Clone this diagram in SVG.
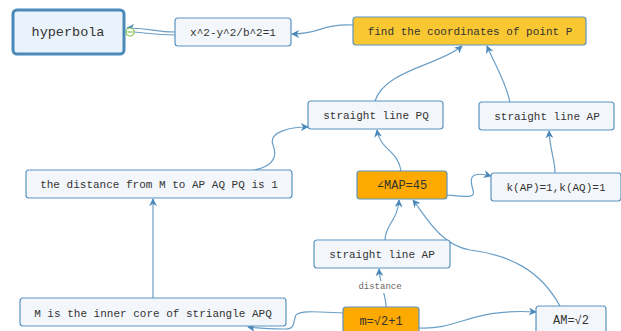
<svg xmlns="http://www.w3.org/2000/svg" width="621" height="331" viewBox="0 0 621 331">
<defs>
<style>
.n{fill:#f3f7fc;stroke:#5b93bf;stroke-width:1.2}
.y{fill:#f8c731;stroke:#5b93bf;stroke-width:1.2}
.o{fill:#ffaa00;stroke:#5b93bf;stroke-width:1.2}
.t{font-family:"Liberation Mono",monospace;font-size:11px;fill:#333;text-anchor:middle;dominant-baseline:central}
.c{fill:none;stroke:#6a9ec6;stroke-width:1.2}
</style>
<marker id="a" viewBox="0 0 10 10" refX="9" refY="5" markerWidth="8" markerHeight="8" markerUnits="userSpaceOnUse" orient="auto">
<path d="M0,0 L10,5 L0,10 L3,5 Z" fill="#4a88ba"/>
</marker>
</defs>
<rect width="621" height="331" fill="#fff"/>
<g id="connectors">
<path class="c" d="M175,32 C155,32 150,28 127,28" marker-end="url(#a)"/>
<path class="c" d="M175,35 C155,35 148,33 134,32"/>
<path class="c" d="M353,25 C320,24 320,34 292,34" marker-end="url(#a)"/>
<path class="c" d="M375,101 C385,70 440,65 462,46" marker-end="url(#a)"/>
<path class="c" d="M510,102 C505,80 495,65 487,46" marker-end="url(#a)"/>
<path class="c" d="M254,170 C280,165 275,150 273,145 C268,132 290,127 308,127" marker-end="url(#a)"/>
<path class="c" d="M401,171 C398,150 380,150 377,130" marker-end="url(#a)"/>
<path class="c" d="M447,195 C470,197 475,198 473,190 C470,180 468,170 491,176" marker-end="url(#a)"/>
<path class="c" d="M555,173 C555,160 550,150 549,131" marker-end="url(#a)"/>
<path class="c" d="M385,240 C385,225 398,220 399,200" marker-end="url(#a)"/>
<path class="c" d="M560,306 C540,270 510,255 470,250 C440,245 425,215 413,200" marker-end="url(#a)"/>
<path class="c" d="M153,298 L153,199" marker-end="url(#a)"/>
<path class="c" d="M386,307 C386,295 380,285 379,269" marker-end="url(#a)"/>
<path class="c" d="M419,328 C460,330 470,308 536,312" marker-end="url(#a)"/>
<path class="c" d="M343,313 C320,312 300,310 296,315 C293,320 296,330 285,329 C270,329 255,328 248,327" marker-end="url(#a)"/>
<rect x="355" y="281" width="50" height="12" fill="#fff"/>
<text x="380" y="287" style="font-family:'Liberation Mono',monospace;font-size:9px;fill:#666;text-anchor:middle;dominant-baseline:central">distance</text>
<circle cx="130" cy="32" r="4" fill="#fff" stroke="#7cc24a" stroke-width="1.2"/>
<path d="M127.5,32 L132.5,32" stroke="#7cc24a" stroke-width="1.2"/>
</g>
<g id="hyperbola">
<rect x="13" y="10" width="111" height="44" rx="4" fill="#eaf2fb" stroke="#4a8ab8" stroke-width="3"/>
<text class="t" x="68" y="32" style="font-size:13.5px">hyperbola</text>
</g>
<g id="eq">
<rect class="n" x="175" y="18" width="116" height="28" rx="3"/>
<text class="t" x="233" y="33">x^2-y^2/b^2=1</text>
</g>
<g id="find">
<rect class="y" x="353" y="17" width="233" height="28" rx="3"/>
<text class="t" x="470" y="32">find the coordinates of point P</text>
</g>
<g id="linePQ">
<rect class="n" x="308" y="101" width="135" height="28" rx="3"/>
<text class="t" x="376" y="116">straight line PQ</text>
</g>
<g id="lineAP1">
<rect class="n" x="479" y="102" width="135" height="28" rx="3"/>
<text class="t" x="547" y="117">straight line AP</text>
</g>
<g id="distanceM">
<rect class="n" x="26" y="170" width="266" height="28" rx="3"/>
<text class="t" x="159" y="185">the distance from M to AP AQ PQ is 1</text>
</g>
<g id="angle">
<rect class="o" x="357" y="171" width="90" height="28" rx="3"/>
<text class="t" x="402" y="186" style="font-size:12px">∠MAP=45</text>
</g>
<g id="slopes">
<rect class="n" x="491" y="173" width="130" height="28" rx="3"/>
<text class="t" x="556" y="188">k(AP)=1,k(AQ)=1</text>
</g>
<g id="lineAP2">
<rect class="n" x="314" y="240" width="136" height="28" rx="3"/>
<text class="t" x="382" y="255">straight line AP</text>
</g>
<g id="inner">
<rect class="n" x="20" y="298" width="266" height="28" rx="3"/>
<text class="t" x="153" y="314">M is the inner core of striangle APQ</text>
</g>
<g id="m">
<rect class="o" x="343" y="307" width="76" height="30" rx="3"/>
<text class="t" x="381" y="322" style="font-size:12px">m=√2+1</text>
</g>
<g id="AM">
<rect class="n" x="536" y="306" width="70" height="30" rx="3"/>
<text class="t" x="571" y="321" style="font-size:12px">AM=√2</text>
</g>
</svg>
